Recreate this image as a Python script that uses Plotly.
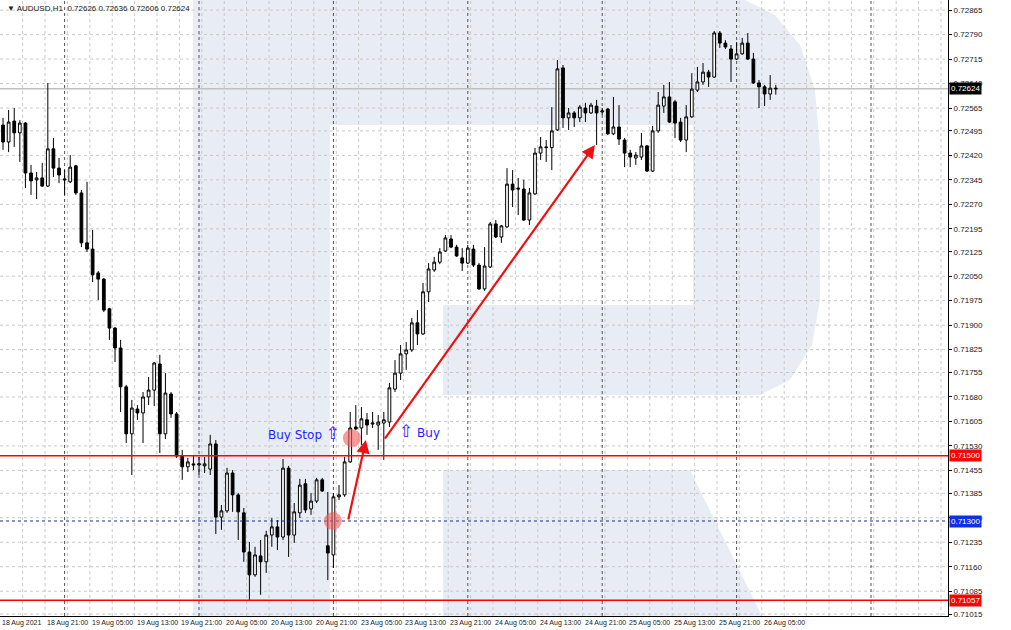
import plotly.graph_objects as go

# AUDUSD H1 candles, index 0 = 18 Aug 2021 13:00
opens = [0.72513, 0.72461, 0.72525, 0.72489, 0.72519, 0.72366, 0.72345, 0.72351, 0.72326, 0.72440,
         0.72381, 0.72348, 0.72339, 0.72388, 0.72305, 0.72152, 0.72133, 0.72060, 0.72041, 0.71950,
         0.71891, 0.71830, 0.71711, 0.71567, 0.71643, 0.71631, 0.71680, 0.71701, 0.71781, 0.71567,
         0.71689, 0.71628, 0.71499, 0.71466, 0.71475, 0.71472, 0.71469, 0.71459, 0.71536, 0.71312,
         0.71331, 0.71447, 0.71380, 0.71325, 0.71205, 0.71135, 0.71193, 0.71175, 0.71257, 0.71282,
         0.71251, 0.71462, 0.71257, 0.71325, 0.71414, 0.71337, 0.71361, 0.71426, 0.71224, 0.71196,
         0.71374, 0.71380, 0.71481, 0.71588, 0.71585, 0.71610, 0.71597, 0.71594, 0.71600, 0.71603,
         0.71704, 0.71753, 0.71812, 0.71824, 0.71907, 0.71873, 0.72002, 0.72069, 0.72093, 0.72127,
         0.72164, 0.72139, 0.72106, 0.72090, 0.72133, 0.72084, 0.72011, 0.72078, 0.72210, 0.72170,
         0.72201, 0.72332, 0.72320, 0.72317, 0.72222, 0.72302, 0.72427, 0.72446, 0.72444, 0.72498,
         0.72688, 0.72535, 0.72550, 0.72535, 0.72565, 0.72550, 0.72571, 0.72553, 0.72562, 0.72486,
         0.72507, 0.72467, 0.72427, 0.72412, 0.72415, 0.72449, 0.72372, 0.72495, 0.72571, 0.72599,
         0.72584, 0.72522, 0.72467, 0.72538, 0.72620, 0.72645, 0.72675, 0.72660, 0.72795, 0.72764,
         0.72746, 0.72715, 0.72731, 0.72764, 0.72715, 0.72642, 0.72630, 0.72608, 0.72626]
highs = [0.72535, 0.72559, 0.72565, 0.72528, 0.72522, 0.72391, 0.72369, 0.72397, 0.72642, 0.72473,
         0.72412, 0.72375, 0.72421, 0.72391, 0.72314, 0.72339, 0.72192, 0.72066, 0.72044, 0.71953,
         0.71894, 0.71855, 0.71717, 0.71671, 0.71655, 0.71695, 0.71741, 0.71787, 0.71809, 0.71753,
         0.71695, 0.71634, 0.71518, 0.71493, 0.71502, 0.71496, 0.71496, 0.71564, 0.71548, 0.71349,
         0.71463, 0.71456, 0.71386, 0.71340, 0.71236, 0.71221, 0.71242, 0.71270, 0.71309, 0.71303,
         0.71490, 0.71469, 0.71355, 0.71429, 0.71429, 0.71386, 0.71432, 0.71432, 0.71389, 0.71386,
         0.71410, 0.71496, 0.71634, 0.71655, 0.71649, 0.71631, 0.71634, 0.71625, 0.71634, 0.71723,
         0.71793, 0.71839, 0.71848, 0.71922, 0.71946, 0.72029, 0.72090, 0.72109, 0.72136, 0.72176,
         0.72176, 0.72146, 0.72136, 0.72146, 0.72146, 0.72090, 0.72139, 0.72216, 0.72222, 0.72207,
         0.72381, 0.72375, 0.72351, 0.72345, 0.72320, 0.72443, 0.72476, 0.72467, 0.72568, 0.72712,
         0.72697, 0.72565, 0.72556, 0.72574, 0.72581, 0.72581, 0.72590, 0.72565, 0.72565, 0.72599,
         0.72574, 0.72473, 0.72437, 0.72430, 0.72489, 0.72452, 0.72510, 0.72614, 0.72636, 0.72645,
         0.72590, 0.72535, 0.72574, 0.72672, 0.72691, 0.72703, 0.72682, 0.72801, 0.72801, 0.72773,
         0.72758, 0.72767, 0.72780, 0.72795, 0.72734, 0.72651, 0.72636, 0.72666, 0.72636]
lows = [0.72437, 0.72430, 0.72446, 0.72400, 0.72320, 0.72299, 0.72286, 0.72323, 0.72323, 0.72354,
        0.72335, 0.72299, 0.72335, 0.72299, 0.72139, 0.72124, 0.72032, 0.71977, 0.71940, 0.71855,
        0.71787, 0.71634, 0.71539, 0.71441, 0.71610, 0.71539, 0.71655, 0.71652, 0.71508, 0.71551,
        0.71616, 0.71493, 0.71426, 0.71450, 0.71456, 0.71441, 0.71447, 0.71441, 0.71260, 0.71273,
        0.71325, 0.71328, 0.71242, 0.71175, 0.71058, 0.71129, 0.71074, 0.71141, 0.71221, 0.71211,
        0.71242, 0.71190, 0.71233, 0.71309, 0.71325, 0.71319, 0.71355, 0.71389, 0.71119, 0.71156,
        0.71364, 0.71374, 0.71478, 0.71579, 0.71533, 0.71564, 0.71585, 0.71518, 0.71487, 0.71588,
        0.71695, 0.71732, 0.71763, 0.71818, 0.71839, 0.71870, 0.71971, 0.72063, 0.72087, 0.72124,
        0.72136, 0.72109, 0.72066, 0.72087, 0.72078, 0.72008, 0.72005, 0.72075, 0.72167, 0.72152,
        0.72198, 0.72262, 0.72237, 0.72219, 0.72207, 0.72299, 0.72406, 0.72400, 0.72375, 0.72495,
        0.72504, 0.72498, 0.72507, 0.72522, 0.72522, 0.72547, 0.72452, 0.72544, 0.72482, 0.72482,
        0.72452, 0.72384, 0.72384, 0.72391, 0.72406, 0.72369, 0.72369, 0.72489, 0.72550, 0.72519,
        0.72473, 0.72461, 0.72430, 0.72535, 0.72614, 0.72636, 0.72630, 0.72657, 0.72749, 0.72746,
        0.72645, 0.72712, 0.72728, 0.72712, 0.72639, 0.72565, 0.72571, 0.72590, 0.72606]
closes = [0.72461, 0.72522, 0.72489, 0.72519, 0.72366, 0.72342, 0.72351, 0.72326, 0.72440, 0.72381,
          0.72360, 0.72345, 0.72384, 0.72305, 0.72152, 0.72133, 0.72054, 0.72041, 0.71946, 0.71891,
          0.71830, 0.71711, 0.71567, 0.71646, 0.71631, 0.71680, 0.71701, 0.71784, 0.71567, 0.71692,
          0.71628, 0.71499, 0.71466, 0.71481, 0.71472, 0.71475, 0.71475, 0.71536, 0.71312, 0.71331,
          0.71447, 0.71380, 0.71328, 0.71205, 0.71135, 0.71196, 0.71175, 0.71257, 0.71282, 0.71251,
          0.71462, 0.71257, 0.71328, 0.71410, 0.71334, 0.71361, 0.71426, 0.71392, 0.71202, 0.71374,
          0.71380, 0.71481, 0.71585, 0.71582, 0.71613, 0.71594, 0.71600, 0.71603, 0.71610, 0.71708,
          0.71753, 0.71812, 0.71824, 0.71907, 0.71873, 0.72002, 0.72072, 0.72093, 0.72124, 0.72167,
          0.72139, 0.72112, 0.72090, 0.72136, 0.72084, 0.72011, 0.72081, 0.72210, 0.72170, 0.72204,
          0.72332, 0.72314, 0.72317, 0.72222, 0.72305, 0.72427, 0.72446, 0.72444, 0.72495, 0.72685,
          0.72535, 0.72550, 0.72535, 0.72568, 0.72550, 0.72574, 0.72550, 0.72556, 0.72486, 0.72507,
          0.72470, 0.72427, 0.72415, 0.72421, 0.72449, 0.72372, 0.72495, 0.72574, 0.72599, 0.72522,
          0.72519, 0.72467, 0.72538, 0.72623, 0.72645, 0.72675, 0.72660, 0.72795, 0.72764, 0.72752,
          0.72715, 0.72731, 0.72764, 0.72715, 0.72642, 0.72630, 0.72608, 0.72626, 0.72624]

date_labels = ["18 Aug 2021", "18 Aug 21:00", "19 Aug 05:00", "19 Aug 13:00", "19 Aug 21:00",
               "20 Aug 05:00", "20 Aug 13:00", "20 Aug 21:00", "23 Aug 05:00", "23 Aug 13:00",
               "23 Aug 21:00", "24 Aug 05:00", "24 Aug 13:00", "24 Aug 21:00", "25 Aug 05:00",
               "25 Aug 13:00", "25 Aug 21:00", "26 Aug 05:00"]
label_step = 8
day_breaks = [11, 35, 59, 83, 107, 131, 155]

price_ticks = [0.72865, 0.72790, 0.72715, 0.72640, 0.72565, 0.72495, 0.72420, 0.72345, 0.72270,
               0.72195, 0.72125, 0.72050, 0.71975, 0.71900, 0.71825, 0.71755, 0.71680, 0.71605,
               0.71530, 0.71455, 0.71385, 0.71310, 0.71235, 0.71160, 0.71085, 0.71015]

buy_stop = 0.71500
stop_loss = 0.71057
entry = 0.71300
last_price = 0.72624

bars = list(range(len(closes)))
x_range = [-0.54, 168.75]
y_range = [0.71009, 0.72896]

fig = go.Figure(go.Candlestick(
    x=bars, open=opens, high=highs, low=lows, close=closes,
    increasing=dict(fillcolor="white", line=dict(color="black", width=1)),
    decreasing=dict(fillcolor="black", line=dict(color="black", width=1)),
    whiskerwidth=0, showlegend=False, hoverinfo="skip",
))

W, H = 948, 616
def px(x, y):
    return x / W, 1 - y / H

def path(points):
    pts = [px(a, b) for a, b in points]
    return "M " + " L ".join(f"{a:.4f},{b:.4f}" for a, b in pts) + " Z"

wm = "#e8edf5"
shapes = []
# watermark "R"
shapes.append(dict(type="rect", xref="paper", yref="paper", layer="below", line_width=0, fillcolor=wm,
                   x0=193 / W, x1=330 / W, y0=0, y1=1))
bowl = [(330, 0), (745, 0), (775, 15), (800, 45), (815, 90), (820, 150), (820, 300), (812, 345),
        (790, 380), (760, 395), (443, 395), (443, 305), (693, 305), (693, 125), (330, 125)]
shapes.append(dict(type="path", xref="paper", yref="paper", layer="below", line_width=0, fillcolor=wm,
                   path=path(bowl)))
leg = [(443, 470), (690, 470), (762, 616), (443, 616)]
shapes.append(dict(type="path", xref="paper", yref="paper", layer="below", line_width=0, fillcolor=wm,
                   path=path(leg)))

# light grid
for k in range(43):
    shapes.append(dict(type="line", xref="x", yref="paper", layer="below", x0=3.5 + 4 * k, x1=3.5 + 4 * k,
                       y0=0, y1=1, line=dict(color="#c8c8c8", width=1, dash="dot")))
for v in price_ticks:
    shapes.append(dict(type="line", xref="paper", yref="y", layer="below", x0=0, x1=1, y0=v, y1=v,
                       line=dict(color="#c8c8c8", width=1, dash="dot")))
for d in day_breaks:
    shapes.append(dict(type="line", xref="x", yref="paper", layer="below", x0=d, x1=d, y0=0, y1=1,
                       line=dict(color="#505050", width=1, dash="dot")))

# price lines
shapes.append(dict(type="line", xref="paper", yref="y", x0=0, x1=1, y0=last_price, y1=last_price,
                   layer="below", line=dict(color="#c0c0c0", width=1.5)))
shapes.append(dict(type="line", xref="paper", yref="y", x0=0, x1=1, y0=entry, y1=entry,
                   line=dict(color="#1a2a80", width=1, dash="dot")))
for v in (buy_stop, stop_loss):
    shapes.append(dict(type="line", xref="paper", yref="y", x0=0, x1=1, y0=v, y1=v,
                       line=dict(color="#ff0000", width=1.5)))

# order markers
for cx, cy in [(58.9, entry), (62.3, 0.71554)]:
    shapes.append(dict(type="circle", xref="x", yref="y", xsizemode="pixel", ysizemode="pixel",
                       xanchor=cx, yanchor=cy, x0=-9, x1=9, y0=-9, y1=9,
                       fillcolor="rgba(240,90,90,0.6)", line_width=0))

font = "Liberation Sans"
ann = []
for n, t in enumerate(date_labels):
    ann.append(dict(x=n * label_step - 0.5, y=0, xref="x", yref="paper", text=t, showarrow=False,
                    xanchor="left", yanchor="top", yshift=-1, font=dict(family=font, size=7, color="#202020")))
for v, bg, fg in [(last_price, "black", "white"), (buy_stop, "#ff0000", "white"),
                  (stop_loss, "#ff0000", "white"), (entry, "#1030e0", "white")]:
    ann.append(dict(x=1, y=v, xref="paper", yref="y", text=f"{v:.5f}", showarrow=False, xanchor="left",
                    xshift=1, bgcolor=bg, borderpad=1, font=dict(family=font, size=8, color=fg)))
ann.append(dict(x=0.005, y=1, xref="paper", yref="paper", xanchor="left", yanchor="top", yshift=-2,
                showarrow=False, text="▼ AUDUSD,H1  0.72626 0.72636 0.72606 0.72624",
                font=dict(family=font, size=8, color="#202020")))
# arrows
for (x0, y0), (x1, y1) in [((61.6, entry), (64.8, 0.71548)), ((68.0, 0.71548), (105.7, 0.72452))]:
    ann.append(dict(x=x1, y=y1, ax=x0, ay=y0, xref="x", yref="y", axref="x", ayref="y", text="",
                    showarrow=True, arrowhead=2, arrowsize=1.2, arrowwidth=2.2, arrowcolor="#ee1111"))
ann.append(dict(x=60.5, y=0.71570, xref="x", yref="y", xanchor="right", showarrow=False,
                text="Buy Stop <span style='font-size:17px'>⇧</span>",
                font=dict(family="DejaVu Sans", size=12, color="#1f1fff")))
ann.append(dict(x=70.3, y=0.71575, xref="x", yref="y", xanchor="left", showarrow=False,
                text="<span style='font-size:17px'>⇧</span> Buy",
                font=dict(family="DejaVu Sans", size=12, color="#1f1fff")))

fig.update_layout(
    width=1011, height=630, margin=dict(l=0, r=63, t=0, b=14),
    paper_bgcolor="white", plot_bgcolor="white",
    shapes=shapes, annotations=ann,
    xaxis=dict(range=x_range, showgrid=False, zeroline=False, showticklabels=False, showline=True,
               linecolor="black", linewidth=1, rangeslider=dict(visible=False), fixedrange=True),
    yaxis=dict(range=y_range, side="right", showgrid=False, zeroline=False, tickvals=price_ticks,
               ticktext=[f"{v:.5f}" for v in price_ticks], ticks="outside", ticklen=3, tickcolor="black",
               showline=True, linecolor="black", linewidth=1, fixedrange=True,
               tickfont=dict(family=font, size=8, color="#202020")),
)

# page margin off so the chart sits at the window corner
fig.write_html("out.html", config={"displayModeBar": False},
               post_script="document.body.style.margin='0';")
